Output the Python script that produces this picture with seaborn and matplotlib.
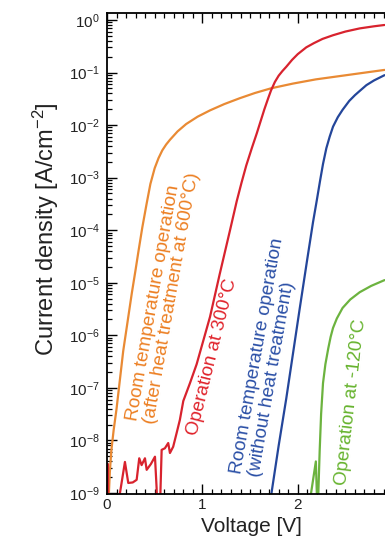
import numpy as np
import pandas as pd
import matplotlib
matplotlib.use("Agg")
import matplotlib.pyplot as plt
from matplotlib.ticker import LogLocator, MultipleLocator, NullFormatter
import seaborn as sns

# Forward-bias I-V curves: voltage [V] and log10 of current density [A/cm^2]
after_600c_voltage = [0.012, 0.02, 0.03, 0.045, 0.07, 0.10, 0.135, 0.17, 0.215, 0.26,
                      0.30, 0.33, 0.37, 0.415, 0.455, 0.50, 0.54, 0.58, 0.62, 0.66,
                      0.74, 0.83, 0.95, 1.08, 1.23, 1.39, 1.55, 1.72, 1.95, 2.19,
                      2.55, 2.91]
after_600c_log_j = [-9.3, -9.0, -8.6, -8.2, -7.8, -7.4, -6.85, -6.3, -5.75, -5.2,
                    -4.75, -4.4, -3.95, -3.5, -3.12, -2.82, -2.63, -2.48, -2.37, -2.28,
                    -2.12, -1.98, -1.84, -1.72, -1.60, -1.49, -1.39, -1.30, -1.21, -1.13,
                    -1.04, -0.95]

at_300c_voltage = [0.0, 0.0, 0.01, 0.012, 0.12, 0.136, 0.188, 0.223, 0.27, 0.311,
                   0.338, 0.363, 0.398, 0.416, 0.46, 0.503, 0.52, 0.527, 0.555, 0.56,
                   0.573, 0.607, 0.642, 0.66, 0.694, 0.73, 0.764, 0.80, 0.87, 0.94,
                   1.01, 1.08, 1.18, 1.29, 1.36, 1.41, 1.46, 1.52, 1.57, 1.61,
                   1.65, 1.69, 1.72, 1.76, 1.80, 1.84, 1.88, 1.94, 2.00, 2.09,
                   2.17, 2.26, 2.37, 2.50, 2.65, 2.80, 2.91]
at_300c_log_j = [-9.3, -8.45, -8.45, -9.3, -9.3, -9.0, -8.41, -8.81, -8.80, -8.75,
                 -8.34, -8.47, -8.34, -8.56, -8.45, -8.31, -8.9, -9.3, -9.3, -9.0,
                 -8.18, -8.15, -8.05, -8.24, -8.12, -7.86, -7.61, -7.25, -6.91, -6.55,
                 -6.1, -5.65, -4.85, -4.0, -3.45, -3.1, -2.77, -2.43, -2.16, -1.93,
                 -1.70, -1.49, -1.34, -1.18, -1.06, -0.97, -0.89, -0.76, -0.65, -0.52,
                 -0.44, -0.36, -0.29, -0.22, -0.16, -0.12, -0.095]

no_anneal_voltage = [1.715, 1.725, 1.80, 1.88, 1.95, 2.02, 2.10, 2.16, 2.20, 2.235,
                     2.265, 2.30, 2.335, 2.37, 2.42, 2.47, 2.54, 2.60, 2.65, 2.72,
                     2.80, 2.91]
no_anneal_log_j = [-9.3, -9.0, -8.1, -7.2, -6.35, -5.5, -4.55, -3.85, -3.43, -3.05,
                   -2.74, -2.44, -2.22, -2.03, -1.85, -1.71, -1.54, -1.43, -1.35, -1.24,
                   -1.15, -1.05]

at_m120c_voltage = [2.115, 2.19, 2.205, 2.212, 2.216, 2.23, 2.245, 2.265, 2.29, 2.32,
                    2.345, 2.37, 2.41, 2.47, 2.55, 2.65, 2.77, 2.91]
at_m120c_log_j = [-9.3, -8.4, -9.3, -9.3, -9.0, -8.2, -7.5, -6.91, -6.55, -6.25,
                  -6.03, -5.86, -5.68, -5.48, -5.32, -5.18, -5.06, -4.95]

series_names = ["after_600c", "at_300c", "no_anneal", "at_m120c"]
series_colors = ["#E98A34", "#D8232E", "#24469A", "#6CB33F"]
label_colors = ["#EC7F22", "#E0232B", "#2A4FA6", "#66B32E"]

label_texts = ["Room temperature operation\n(after heat treatment at 600°C)",
               "Operation at 300°C",
               "Room temperature operation\n(without heat treatment)",
               "Operation at -120°C"]
label_voltage = [0.59, 1.10, 1.67, 2.56]
label_log_j = [-5.26, -6.41, -6.42, -7.27]
label_angle = [80, 76, 80, 83.5]

x_ticks = [0, 1, 2]

frames = []
for name, v, lj in [("after_600c", after_600c_voltage, after_600c_log_j),
                    ("at_300c", at_300c_voltage, at_300c_log_j),
                    ("no_anneal", no_anneal_voltage, no_anneal_log_j),
                    ("at_m120c", at_m120c_voltage, at_m120c_log_j)]:
    frames.append(pd.DataFrame({"voltage": v,
                                "density": np.power(10.0, lj),
                                "series": name}))
df = pd.concat(frames, ignore_index=True)

sns.set_theme(style="ticks")
plt.rcParams["font.family"] = ["Liberation Sans", "DejaVu Sans"]
plt.rcParams["mathtext.fontset"] = "custom"
plt.rcParams["mathtext.rm"] = "Liberation Sans"
plt.rcParams["mathtext.it"] = "Liberation Sans:italic"
plt.rcParams["mathtext.bf"] = "Liberation Sans:bold"

fig = plt.figure(figsize=(3.85, 5.41), dpi=100)
ax = fig.add_axes([107 / 385, 47 / 541, 278 / 385, 481 / 541])
ax.set_yscale("log")

sns.lineplot(data=df, x="voltage", y="density", hue="series",
             hue_order=series_names, palette=series_colors,
             sort=False, estimator=None, legend=False, linewidth=1.6, ax=ax)
for line in ax.get_lines():
    line.set_solid_joinstyle("round")

ax.set_xlim(0, 2.915)
ax.set_ylim(10 ** -9.02, 10 ** 0.133)

ax.set_xticks(x_ticks)
ax.set_xticklabels([str(t) for t in x_ticks])
ax.xaxis.set_minor_locator(MultipleLocator(0.1))
ax.yaxis.set_major_locator(LogLocator(base=10, numticks=20))
ax.yaxis.set_minor_locator(LogLocator(base=10, subs=np.arange(2, 10), numticks=20))
ax.yaxis.set_minor_formatter(NullFormatter())

ax.tick_params(axis="both", which="major", direction="in", length=7, width=1.0,
               color="black", labelsize=11, labelcolor="#222222")
ax.tick_params(axis="both", which="minor", direction="in", length=3.5, width=0.9,
               color="black")
ax.tick_params(axis="x", which="both", top=True, bottom=True, pad=3)
ax.tick_params(axis="y", which="both", left=True, right=False, pad=5)

for side in ["left", "bottom", "top"]:
    ax.spines[side].set_linewidth(1.3)
    ax.spines[side].set_color("black")
ax.spines["right"].set_visible(False)

ax.set_xlabel("Voltage [V]", fontsize=15, color="#222222")
ax.set_ylabel("Current density [A/cm$^{-2}$]", fontsize=17, color="#222222")
ax.xaxis.set_label_coords(0.518, -0.048)
ax.yaxis.set_label_coords(-0.165, 0.55)

for txt, v, lj, ang, col in zip(label_texts, label_voltage, label_log_j,
                                label_angle, label_colors):
    ax.text(v, 10 ** lj, txt, color=col, fontsize=13.5, rotation=ang,
            rotation_mode="anchor", ha="center", va="center",
            multialignment="left", linespacing=1.05)

fig.savefig("out.png", dpi=100)
